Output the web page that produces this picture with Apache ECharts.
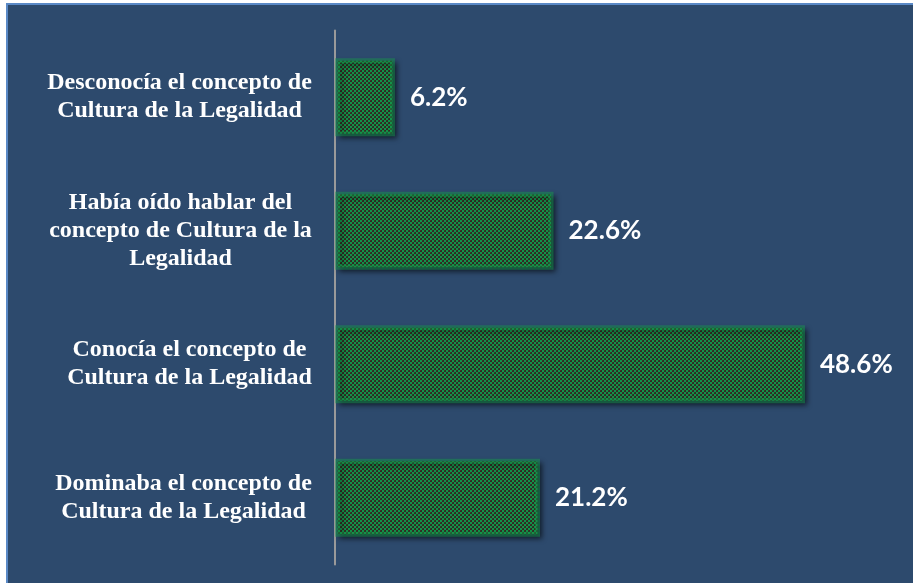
<!DOCTYPE html>
<html>
<head>
<meta charset="utf-8">
<style>
  html, body { margin: 0; padding: 0; background: #ffffff; }
  #chart { width: 913px; height: 583px; }
</style>
<script src="https://cdn.jsdelivr.net/npm/echarts@6/dist/echarts.min.js"></script>
</head>
<body>
<div id="chart"></div>
<script>
// Categories (top to bottom) and their shares in percent
const categories = [
  ['Desconocía el concepto de', 'Cultura de la Legalidad'],
  ['Había oído hablar del', 'concepto de Cultura de la', 'Legalidad'],
  ['Conocía el concepto de', 'Cultura de la Legalidad'],
  ['Dominaba el concepto de', 'Cultura de la Legalidad']
];
const values = [6.2, 22.6, 48.6, 21.2];

const LABEL_SIZE = 24;
const LABEL_FAMILY = '"Liberation Serif", "DejaVu Serif", serif';
const VALUE_FAMILY = 'Lato, "Open Sans", sans-serif';

// Measure each label block so its lines are centred within a right-aligned box
const measure = document.createElement('canvas').getContext('2d');
measure.font = 'bold ' + LABEL_SIZE + 'px ' + LABEL_FAMILY;
const rich = {};
categories.forEach((lines, i) => {
  const w = Math.max(...lines.map(l => measure.measureText(l).width));
  rich['c' + i] = {
    width: Math.ceil(w),
    align: 'center',
    fontFamily: LABEL_FAMILY,
    fontWeight: 'bold',
    fontSize: LABEL_SIZE,
    lineHeight: 28,
    color: '#ffffff'
  };
});

// Dotted green texture for the bars
function makePattern() {
  const c = document.createElement('canvas');
  c.width = 4; c.height = 4;
  const g = c.getContext('2d');
  g.fillStyle = '#2e2c22';
  g.fillRect(0, 0, 4, 4);
  g.fillStyle = '#12924a';
  g.fillRect(0, 0, 2, 2);
  g.fillRect(2, 2, 2, 2);
  g.fillStyle = '#3a3426';
  g.fillRect(2, 0, 1, 1);
  g.fillRect(0, 2, 1, 1);
  return c;
}

const chart = echarts.init(document.getElementById('chart'), null, { renderer: 'canvas' });

chart.setOption({
  backgroundColor: '#ffffff',
  animation: false,
  graphic: [{
    type: 'rect',
    z: -10,
    silent: true,
    shape: { x: 7, y: 4, width: 920, height: 600 },
    style: { fill: '#2d4a6d', stroke: '#5a89c6', lineWidth: 2 }
  }],
  grid: { left: 335, top: 30.5, width: 483.5, height: 534 },
  xAxis: {
    type: 'value',
    min: 0,
    max: 50,
    show: false
  },
  yAxis: {
    type: 'category',
    inverse: true,
    data: categories.map((lines, i) => lines.map(l => '{c' + i + '|' + l + '}').join('\n')),
    axisLine: { show: true, lineStyle: { color: '#9a9a9a', width: 2 } },
    axisTick: { show: false },
    axisLabel: {
      margin: 23,
      align: 'right',
      rich: rich,
      formatter: v => v
    },
    splitLine: { show: false }
  },
  series: [{
    type: 'bar',
    data: values,
    barWidth: 78,
    itemStyle: {
      color: { image: makePattern(), repeat: 'repeat' },
      borderColor: 'rgba(24,160,80,0.45)',
      borderWidth: 5,
      shadowColor: 'rgba(0,0,0,0.6)',
      shadowBlur: 5,
      shadowOffsetX: 3,
      shadowOffsetY: 3
    },
    label: {
      show: true,
      position: 'right',
      distance: 15,
      formatter: p => p.value.toFixed(1) + '%',
      color: '#ffffff',
      fontFamily: VALUE_FAMILY,
      fontWeight: 'bold',
      fontSize: 26
    }
  }]
});
</script>
</body>
</html>
